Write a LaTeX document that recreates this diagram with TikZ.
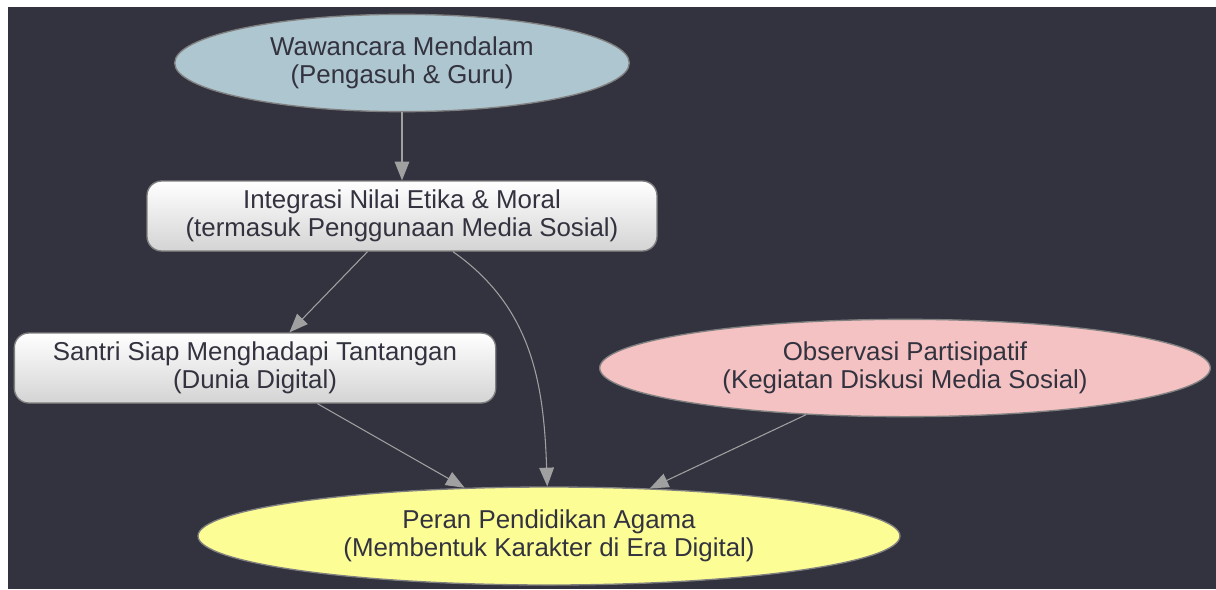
\documentclass[tikz,border=0pt]{standalone}
\usepackage{fontspec}
\setmainfont{Liberation Sans}
\usetikzlibrary{shapes.geometric,arrows.meta}
\definecolor{bgdark}{RGB}{51,51,64}
\definecolor{txtdark}{RGB}{51,51,64}
\definecolor{edgegrey}{RGB}{160,160,160}
\definecolor{linegrey}{RGB}{128,128,128}
\definecolor{pastelblue}{RGB}{174,198,207}
\definecolor{pastelpink}{RGB}{244,194,194}
\definecolor{pastelyellow}{RGB}{253,253,150}
\begin{document}
\begin{tikzpicture}[x=0.75pt,y=-0.75pt,
    every node/.style={text=txtdark,font=\fontsize{19.4}{20.6}\selectfont,align=center},
    methodnode/.style={ellipse,draw=linegrey,line width=1pt,inner sep=0pt},
    stepbox/.style={rectangle,rounded corners=11pt,draw=linegrey,line width=1pt,
        top color=white,bottom color=black!17,minimum height=52.5pt,inner sep=0pt},
    link/.style={draw=edgegrey,line width=0.8pt,-{Triangle[length=14pt,width=11pt]}}]
        %BACKGROUND
        \useasboundingbox (0,0) rectangle (1216,589);
        \fill[white] (0,0) rectangle (1216,589);
        \fill[bgdark] (8,7) rectangle (1216,589);

        %NODES
        \node[methodnode,fill=pastelblue,minimum width=341pt,minimum height=73pt] (wawancara) at (402,63) {Wawancara Mendalam\\(Pengasuh \& Guru)};
        \node[stepbox,minimum width=382.5pt] (integrasi) at (402,216) {Integrasi Nilai Etika \& Moral\\(termasuk Penggunaan Media Sosial)};
        \node[stepbox,minimum width=361pt] (santri) at (255,368) {Santri Siap Menghadapi Tantangan\\(Dunia Digital)};
        \node[methodnode,fill=pastelpink,minimum width=458pt,minimum height=73pt] (observasi) at (905,368) {Observasi Partisipatif\\(Kegiatan Diskusi Media Sosial)};
        \node[methodnode,fill=pastelyellow,minimum width=526.5pt,minimum height=73.5pt] (peran) at (549,536) {Peran Pendidikan Agama\\(Membentuk Karakter di Era Digital)};

        %EDGES
        \draw[link] (wawancara) -- (integrasi);
        \draw[link] (integrasi) -- (santri);
        \draw[link] (integrasi) to[out=-35,in=92] (peran);
        \draw[link] (santri) -- (peran);
        \draw[link] (observasi) -- (peran);
    \end{tikzpicture}
\end{document}
